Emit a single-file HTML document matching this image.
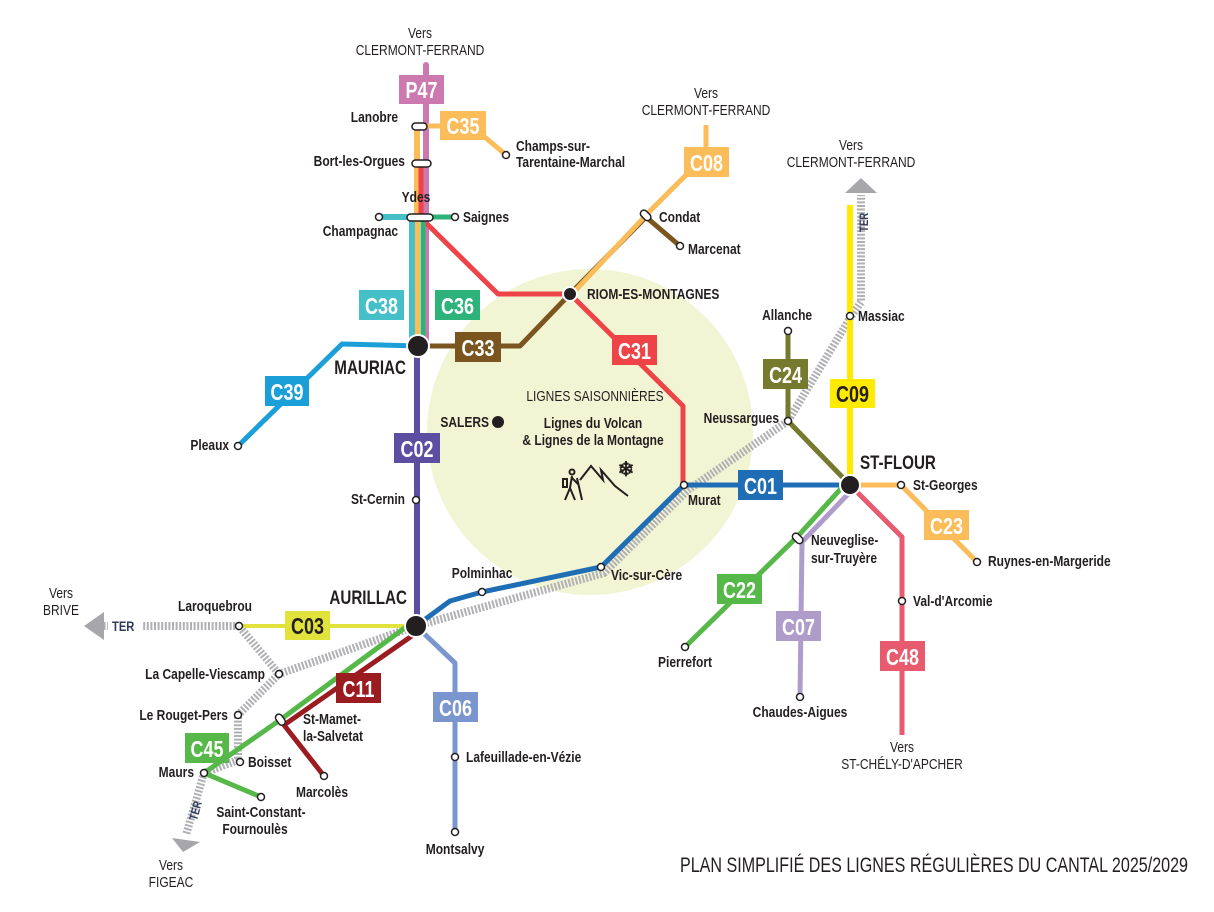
<!DOCTYPE html>
<html><head><meta charset="utf-8"><style>
html,body{margin:0;padding:0;background:#fff}
svg{display:block}
text{font-family:"Liberation Sans Narrow","Liberation Sans",sans-serif;font-weight:bold;fill:#231f20;transform-box:fill-box;transform-origin:left center;transform:scaleX(.8)}
text[text-anchor=middle]{transform-origin:center center}
text[text-anchor=end]{transform-origin:right center}
text.nt{transform:none}
.st{font-size:15px}
.lb{font-size:23px;fill:#fff}
text.lb{transform:scaleX(.78)}
.big{font-size:19px}
.thin{font-weight:normal}
</style></head><body>
<svg width="1214" height="912" viewBox="0 0 1214 912" xmlns="http://www.w3.org/2000/svg">
<circle cx="590" cy="432" r="163" fill="#f2f5d3"/>
<g fill="none" stroke-linejoin="round">
<g stroke="#b1b1b5" stroke-width="8" stroke-dasharray="2 1.6">
<polyline points="416,626 604,573 688,490 788,421 850,318 861,302 861,195"/>
<polyline points="100,626 239,626 279,674"/>
<polyline points="416,626 279,674 238,715 238,760 204,773 186,835"/>
</g>
<polyline points="426,65 426,342" stroke="#cc79b0" stroke-width="6" stroke-linecap="round"/>
<polyline points="417,128 417,342" stroke="#fbbc5a" stroke-width="6"/>
<polyline points="420,126 444,126" stroke="#fbbc5a" stroke-width="5"/>
<polyline points="474,128 506,155" stroke="#fbbc5a" stroke-width="5"/>
<polyline points="421,160 421,218 498,294 570,294 683,406 683,485" stroke="#ee4347" stroke-width="5"/>
<polyline points="379,217 412,217 412,342" stroke="#45c0c8" stroke-width="6"/>
<polyline points="430,217 455,217" stroke="#2db37a" stroke-width="5"/>
<polyline points="423,218 423,342" stroke="#2db37a" stroke-width="5"/>
<polyline points="418,346 520,346 570,294 646,217 680,246" stroke="#7a5520" stroke-width="5"/>
<polyline points="574,292 648,213 706,155 706,125" stroke="#fbbc5a" stroke-width="5"/>
<polyline points="418,346 342,344 238,446" stroke="#1a9fd8" stroke-width="5"/>
<polyline points="417,346 417,626" stroke="#5e4ea2" stroke-width="6"/>
<polyline points="416,626 450,601 482,592 601,567 684,485 850,485" stroke="#1f6db5" stroke-width="5"/>
<polyline points="239,626 416,626" stroke="#e2e23c" stroke-width="4"/>
<polyline points="416,626 455,663 455,832" stroke="#7b96cf" stroke-width="5"/>
<polyline points="414,621 280,720 204,773 261,797" stroke="#55b848" stroke-width="5"/>
<polyline points="419,631 284,725 324,776" stroke="#9b1c20" stroke-width="5"/>
<polyline points="788,331 788,421 850,485" stroke="#767a2e" stroke-width="5"/>
<polyline points="850,205 850,485" stroke="#ffea00" stroke-width="6"/>
<polyline points="850,485 901,485 977,562" stroke="#fbbc5a" stroke-width="5"/>
<polyline points="850,485 902,537 902,735" stroke="#e85a6e" stroke-width="5"/>
<polyline points="846,483 798,536 685,647" stroke="#55b848" stroke-width="5"/>
<polyline points="852,490 802,542 800,697" stroke="#b09ccb" stroke-width="5"/>
</g>
<polygon points="84,626 104,612 104,640" fill="#a7a7ab"/>
<polygon points="845,193 861,178 877,193" fill="#a7a7ab"/>
<polygon points="172,838 200,842 183,852" fill="#a7a7ab"/>
<rect x="108" y="618" width="34" height="16" fill="#fff"/>
<text x="112" y="631" style="font-size:14px;fill:#2e3a59">TER</text>
<g transform="translate(868,232) rotate(-90)"><text x="0" y="0" style="font-size:12px;fill:#2e3a59">TER</text></g>
<g transform="translate(197,821) rotate(-75)"><text x="0" y="0" style="font-size:12px;fill:#2e3a59">TER</text></g>
<g fill="#231f20" stroke="#fff" stroke-width="2">
<circle cx="418" cy="346" r="11"/><circle cx="416" cy="626" r="11"/><circle cx="850" cy="485" r="10"/><circle cx="570" cy="294" r="7"/>
</g>
<circle cx="498" cy="422" r="6" fill="#231f20"/>
<g fill="#fff" stroke="#231f20" stroke-width="1.5">
<circle cx="506" cy="155" r="3.5"/><circle cx="379" cy="217" r="3.5"/><circle cx="455" cy="217" r="3.5"/>
<circle cx="680" cy="246" r="3.5"/><circle cx="238" cy="446" r="3.5"/><circle cx="416" cy="500" r="3.5"/>
<circle cx="482" cy="592" r="3.5"/><circle cx="601" cy="567" r="3.5"/><circle cx="684" cy="485" r="3.5"/>
<circle cx="788" cy="421" r="3.5"/><circle cx="788" cy="331" r="3.5"/><circle cx="850" cy="316" r="3.5"/>
<circle cx="901" cy="485" r="3.5"/><circle cx="977" cy="562" r="3.5"/><circle cx="902" cy="601" r="3.5"/>
<circle cx="685" cy="647" r="3.5"/><circle cx="800" cy="697" r="3.5"/><circle cx="239" cy="626" r="3.5"/>
<circle cx="279" cy="674" r="3.5"/><circle cx="238" cy="715" r="3.5"/><circle cx="240" cy="762" r="3.5"/>
<circle cx="204" cy="773" r="3.5"/><circle cx="261" cy="797" r="3.5"/><circle cx="324" cy="776" r="3.5"/>
<circle cx="455" cy="757" r="3.5"/><circle cx="455" cy="832" r="3.5"/>
<rect x="412" y="123" width="15" height="7" rx="3.5"/><rect x="412" y="160" width="19" height="7" rx="3.5"/>
<rect x="407" y="214" width="26" height="7" rx="3.5"/>
<rect x="640" y="212" width="12" height="7" rx="3.5" transform="rotate(45 646 215)"/>
<rect x="792" y="535" width="12" height="7" rx="3.5" transform="rotate(45 798 538)"/>
<rect x="274" y="716" width="12" height="7" rx="3.5" transform="rotate(55 280 720)"/>
</g>
<g>
<rect x="399" y="75" width="45" height="29" fill="#cc79b0"/><text class="lb" x="421.5" y="98" text-anchor="middle">P47</text>
<rect x="440" y="111" width="46" height="29" fill="#fbbc5a"/><text class="lb" x="463" y="134" text-anchor="middle">C35</text>
<rect x="359" y="290" width="45" height="30" fill="#45c0c8"/><text class="lb" x="381.5" y="314" text-anchor="middle">C38</text>
<rect x="435" y="290" width="45" height="30" fill="#2db37a"/><text class="lb" x="457.5" y="314" text-anchor="middle">C36</text>
<rect x="455" y="332" width="46" height="30" fill="#7a5520"/><text class="lb" x="478" y="356" text-anchor="middle">C33</text>
<rect x="265" y="376" width="44" height="30" fill="#1a9fd8"/><text class="lb" x="287" y="400" text-anchor="middle">C39</text>
<rect x="394" y="433" width="46" height="30" fill="#5e4ea2"/><text class="lb" x="417" y="457" text-anchor="middle">C02</text>
<rect x="612" y="335" width="45" height="30" fill="#ee4347"/><text class="lb" x="634.5" y="359" text-anchor="middle">C31</text>
<rect x="684" y="147" width="45" height="30" fill="#fbbc5a"/><text class="lb" x="706.5" y="171" text-anchor="middle">C08</text>
<rect x="763" y="359" width="45" height="30" fill="#767a2e"/><text class="lb" x="785.5" y="383" text-anchor="middle">C24</text>
<rect x="830" y="379" width="45" height="29" fill="#ffea00"/><text class="lb" x="852.5" y="402" text-anchor="middle" style="fill:#231f20">C09</text>
<rect x="738" y="470" width="45" height="30" fill="#1f6db5"/><text class="lb" x="760.5" y="494" text-anchor="middle">C01</text>
<rect x="924" y="510" width="45" height="30" fill="#fbbc5a"/><text class="lb" x="946.5" y="534" text-anchor="middle">C23</text>
<rect x="717" y="574" width="45" height="30" fill="#55b848"/><text class="lb" x="739.5" y="598" text-anchor="middle">C22</text>
<rect x="776" y="611" width="45" height="30" fill="#b09ccb"/><text class="lb" x="798.5" y="635" text-anchor="middle">C07</text>
<rect x="880" y="641" width="45" height="30" fill="#e85a6e"/><text class="lb" x="902.5" y="665" text-anchor="middle">C48</text>
<rect x="285" y="611" width="45" height="29" fill="#e2e23c"/><text class="lb" x="307.5" y="634" text-anchor="middle" style="fill:#231f20">C03</text>
<rect x="336" y="673" width="45" height="30" fill="#9b1c20"/><text class="lb" x="358.5" y="697" text-anchor="middle">C11</text>
<rect x="433" y="692" width="45" height="30" fill="#7b96cf"/><text class="lb" x="455.5" y="716" text-anchor="middle">C06</text>
<rect x="185" y="733" width="44" height="30" fill="#55b848"/><text class="lb" x="207" y="757" text-anchor="middle">C45</text>
</g>
<g class="st">
<text class="thin" x="420" y="38" text-anchor="middle">Vers</text>
<text class="thin" x="420" y="55" text-anchor="middle">CLERMONT-FERRAND</text>
<text x="398" y="122" text-anchor="end">Lanobre</text>
<text x="405" y="166" text-anchor="end">Bort-les-Orgues</text>
<text x="516" y="151">Champs-sur-</text><text x="516" y="167">Tarentaine-Marchal</text>
<text x="416" y="202" text-anchor="middle">Ydes</text>
<text x="463" y="222">Saignes</text>
<text x="398" y="236" text-anchor="end">Champagnac</text>
<text class="thin" x="706" y="98" text-anchor="middle">Vers</text>
<text class="thin" x="706" y="115" text-anchor="middle">CLERMONT-FERRAND</text>
<text x="659" y="222">Condat</text>
<text x="688" y="254">Marcenat</text>
<text x="587" y="299">RIOM-ES-MONTAGNES</text>
<text class="thin" x="851" y="150" text-anchor="middle">Vers</text>
<text class="thin" x="851" y="167" text-anchor="middle">CLERMONT-FERRAND</text>
<text x="812" y="320" text-anchor="end">Allanche</text>
<text x="858" y="321">Massiac</text>
<text x="779" y="423" text-anchor="end">Neussargues</text>
<text x="860" y="469" class="big">ST-FLOUR</text>
<text x="913" y="490">St-Georges</text>
<text x="988" y="566">Ruynes-en-Margeride</text>
<text x="913" y="606">Val-d'Arcomie</text>
<text x="811" y="545">Neuveglise-</text><text x="811" y="563">sur-Truyère</text>
<text x="685" y="667" text-anchor="middle">Pierrefort</text>
<text x="800" y="717" text-anchor="middle">Chaudes-Aigues</text>
<text class="thin" x="902" y="752" text-anchor="middle">Vers</text>
<text class="thin" x="902" y="769" text-anchor="middle">ST-CHÉLY-D'APCHER</text>
<text x="406" y="374" text-anchor="end" class="big">MAURIAC</text>
<text x="229" y="450" text-anchor="end">Pleaux</text>
<text x="405" y="504" text-anchor="end">St-Cernin</text>
<text x="489" y="427" text-anchor="end">SALERS</text>
<text class="thin" x="595" y="401" text-anchor="middle">LIGNES SAISONNIÈRES</text>
<text x="593" y="428" text-anchor="middle">Lignes du Volcan</text>
<text x="593" y="445" text-anchor="middle">&amp; Lignes de la Montagne</text>
<text x="688" y="505">Murat</text>
<text x="482" y="578" text-anchor="middle">Polminhac</text>
<text x="611" y="580">Vic-sur-Cère</text>
<text x="407" y="604" text-anchor="end" class="big">AURILLAC</text>
<text class="thin" x="61" y="598" text-anchor="middle">Vers</text>
<text class="thin" x="61" y="615" text-anchor="middle">BRIVE</text>
<text x="252" y="611" text-anchor="end">Laroquebrou</text>
<text x="265" y="679" text-anchor="end">La Capelle-Viescamp</text>
<text x="228" y="720" text-anchor="end">Le Rouget-Pers</text>
<text x="303" y="724">St-Mamet-</text><text x="303" y="741">la-Salvetat</text>
<text x="248" y="767">Boisset</text>
<text x="194" y="777" text-anchor="end">Maurs</text>
<text x="322" y="797" text-anchor="middle">Marcolès</text>
<text x="261" y="817" text-anchor="middle">Saint-Constant-</text><text x="255" y="834" text-anchor="middle">Fournoulès</text>
<text x="466" y="762">Lafeuillade-en-Vézie</text>
<text x="455" y="854" text-anchor="middle">Montsalvy</text>
<text class="thin" x="171" y="870" text-anchor="middle">Vers</text>
<text class="thin" x="171" y="887" text-anchor="middle">FIGEAC</text>
</g>
<text class="thin nt" x="1188" y="872" text-anchor="end" style="font-size:21px" textLength="508" lengthAdjust="spacingAndGlyphs">PLAN SIMPLIFIÉ DES LIGNES RÉGULIÈRES DU CANTAL 2025/2029</text>
<g fill="none" stroke="#231f20" stroke-width="2">
<polyline points="580,480 591,466 603,480 601,470 615,486 628,496"/>
<circle cx="572" cy="472" r="2.5"/>
<path d="M572,476 L570,488 L565,500 M570,488 L575,500 M572,478 L578,484 M577,478 L582,500"/>
<rect x="563" y="479" width="4" height="8"/>
</g>
<text class="nt" x="626" y="476" text-anchor="middle" style="font-size:20px">❄</text>
</svg>
</body></html>
